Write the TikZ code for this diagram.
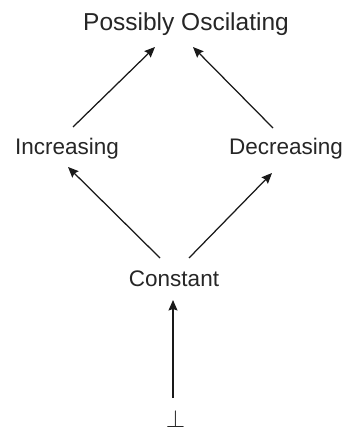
\documentclass[tikz,border=0pt]{standalone}
\usepackage{fontspec}
\setmainfont{Liberation Sans}
\usetikzlibrary{arrows.meta}

\begin{document}
\begin{tikzpicture}[x=1pt,y=-1pt,
  lbl/.style={inner sep=0pt,anchor=base,text=black!85,
    font=\fontsize{22.5}{26}\selectfont},
  edge/.style={draw=black!90,line width=1.25pt,
    -{Stealth[length=10.5pt,width=9pt,inset=1.5pt]}}]

  % page area
  \fill[white] (0,0) rectangle (352,430);
  \useasboundingbox (0,0) rectangle (352,430);

  % lattice elements
  \node[lbl,font=\fontsize{24.5}{28}\selectfont] (top) at (186,30.5) {Possibly Oscilating};
  \node[lbl] (inc) at (67,154.5)  {Increasing};
  \node[lbl] (dec) at (286,155)   {Decreasing};
  \node[lbl] (con) at (174,286.5) {Constant};
  \node[lbl,font=\fontsize{28}{32}\selectfont] (bot) at (175.5,427.5) {$\bot$};

  % order relations
  \draw[edge] ([shift={(6,-27.5)}]inc.base)  -- ([shift={(-31,16.5)}]top.base);
  \draw[edge] ([shift={(-13,-27)}]dec.base)  -- ([shift={(7,16.5)}]top.base);
  \draw[edge] ([shift={(-14,-28.5)}]con.base) -- ([shift={(1,12.5)}]inc.base);
  \draw[edge] ([shift={(15,-28.5)}]con.base) -- ([shift={(-14,18)}]dec.base);
  \draw[edge] ([shift={(-2.5,-29.5)}]bot.base) -- ([shift={(-1,13.5)}]con.base);
\end{tikzpicture}
\end{document}
